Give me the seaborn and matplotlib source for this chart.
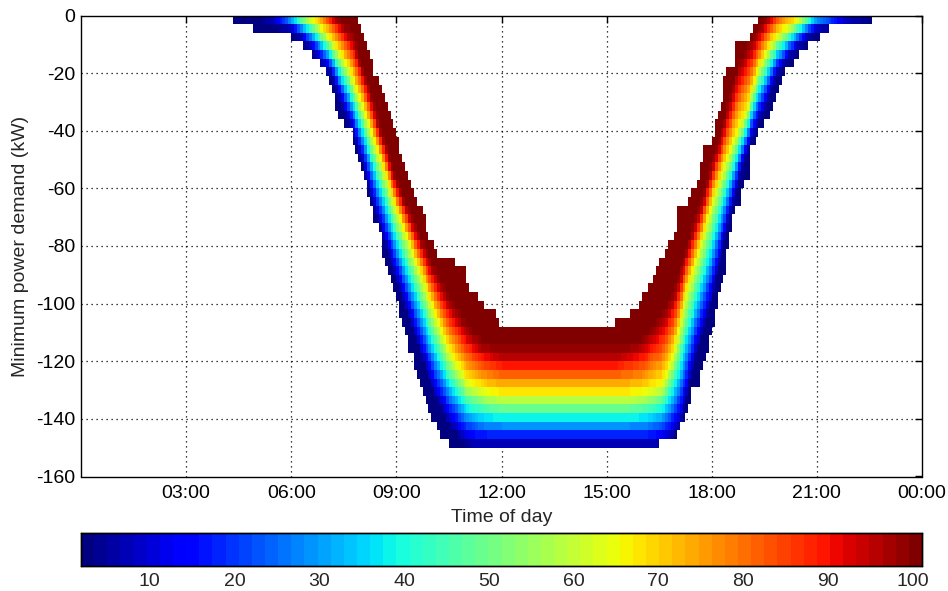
import numpy as np
import pandas as pd
import matplotlib
matplotlib.use("Agg")
import matplotlib.pyplot as plt
import seaborn as sns

# ---------------- data ----------------
# kW bins of 3 kW from 0 down to -150 (50 rows), 5-minute time slots
row_step_kw = 3.0
n_rows = 50
slot_minutes = 5

# time (hours) where each kW row starts / ends (outer = blue edge, inner = dark-red edge)
outer_left = [4.36, 4.95, 6.04, 6.37, 6.56, 6.80, 7.04, 7.11, 7.15, 7.21,
              7.28, 7.37, 7.53, 7.71, 7.75, 7.85, 7.94, 8.04, 8.08, 8.18,
              8.20, 8.23, 8.32, 8.37, 8.47, 8.56, 8.58, 8.61, 8.70, 8.72,
              8.85, 8.94, 9.00, 9.06, 9.08, 9.18, 9.23, 9.32, 9.37, 9.46,
              9.53, 9.56, 9.65, 9.75, 9.80, 9.89, 9.99, 10.13, 10.27, 10.46]
inner_left = [7.90, 7.97, 8.08, 8.13, 8.23, 8.32, 8.37, 8.47, 8.56, 8.64,
              8.75, 8.83, 8.89, 8.99, 9.06, 9.11, 9.18, 9.25, 9.32, 9.42,
              9.51, 9.61, 9.75, 9.82, 9.87, 9.94, 10.06, 10.13, 10.70, 11.03,
              11.03, 11.08, 11.30, 11.51, 11.80, 11.94] + [np.nan] * 14
inner_right = [19.31, 19.17, 19.12, 18.64, 18.64, 18.64, 18.45, 18.31, 18.31, 18.30,
               18.22, 18.17, 18.10, 18.06, 17.99, 17.77, 17.73, 17.68, 17.63, 17.58,
               17.40, 17.31, 17.03, 17.00, 16.96, 16.90, 16.78, 16.67, 16.46, 16.41,
               16.31, 16.17, 15.98, 15.89, 15.65, 15.22] + [np.nan] * 14
outer_right = [22.55, 21.31, 21.07, 20.74, 20.50, 20.36, 20.12, 19.98, 19.90, 19.80,
               19.72, 19.65, 19.50, 19.35, 19.26, 19.12, 19.12, 19.07, 19.05, 18.92,
               18.85, 18.80, 18.70, 18.62, 18.55, 18.52, 18.48, 18.45, 18.43, 18.40,
               18.35, 18.26, 18.20, 18.15, 18.10, 18.05, 18.00, 17.95, 17.88, 17.82,
               17.76, 17.70, 17.64, 17.45, 17.38, 17.31, 17.22, 17.12, 16.98, 16.50]

# colour level curves (hour, kW): level ~8 (blue), ~64 (yellow), ~97 (dark red)
lo_hours = [4.0, 5.0, 5.5, 6.0, 6.3, 6.75, 7.15, 7.5, 7.8, 8.1, 8.35, 8.8, 9.25, 9.7,
            10.1, 10.5, 10.9, 11.3, 16.3, 16.8, 17.1, 17.3, 17.55, 17.95, 18.25, 18.6,
            18.85, 19.15, 19.5, 19.85, 20.2, 20.7, 21.0, 21.8, 22.6, 23.0]
lo_kw = [8, 2, -1.5, -4.5, -7.5, -13.5, -19.5, -31.5, -40.5, -52, -64.5, -82, -99, -116,
         -130, -140, -146, -148.5, -148.5, -146, -140, -130, -116, -99, -82, -64.5,
         -52, -40.5, -31.5, -19.5, -13.5, -7.5, -4.5, -1.5, 1, 8]
mid_hours = [5.8, 6.6, 7.0, 7.33, 7.61, 8.0, 8.3, 8.61, 8.92, 9.45, 9.97, 10.5, 11.0,
             11.6, 12.0, 15.6, 16.1, 16.6, 16.93, 17.22, 17.65, 18.1, 18.45, 18.75,
             19.0, 19.12, 19.26, 19.45, 19.69, 19.88, 20.45, 21.0]
mid_kw = [5, -1.5, -6.5, -12.3, -18.1, -30, -41.3, -52.9, -64.5, -81.9, -99.3, -116.7,
          -127, -131, -132, -132, -131, -128.3, -116.7, -99.3, -81.5, -61, -50, -40,
          -33.2, -27.4, -21.6, -15.8, -10, -7.1, -1.5, 4]
hi_hours = [6.8, 7.3, 7.8, 8.05, 8.3, 8.55, 8.85, 9.2, 9.8, 10.45, 10.9, 11.4, 12.0,
            15.3, 16.0, 16.5, 16.9, 17.3, 17.75, 18.0, 18.3, 18.55, 18.75, 19.0, 19.3,
            19.6, 20.1]
hi_kw = [7, -1.5, -10, -20, -30, -41, -53, -64.5, -82, -99, -108, -115, -118,
         -118, -115, -108, -99, -82, -64.5, -53, -41, -30, -20, -13.5, -7.5, -1.5, 7]

x_tick_hours = [3, 6, 9, 12, 15, 18, 21, 24]
x_tick_labels = ["03:00", "06:00", "09:00", "12:00", "15:00", "18:00", "21:00", "00:00"]
y_tick_kw = [0, -20, -40, -60, -80, -100, -120, -140, -160]
cbar_ticks = [10, 20, 30, 40, 50, 60, 70, 80, 90, 100]

# ---------------- build the cell table ----------------
n_cols = 24 * 60 // slot_minutes
t = (np.arange(n_cols) + 0.5) * slot_minutes / 60.0
yk = -(np.arange(n_rows) * row_step_kw + row_step_kw / 2)
T = t[None, :]
Y = yk[:, None]
lo = np.interp(t, lo_hours, lo_kw)[None, :]
mid = np.interp(t, mid_hours, mid_kw)[None, :]
hi = np.interp(t, hi_hours, hi_kw)[None, :]
with np.errstate(divide="ignore", invalid="ignore"):
    v = np.where(Y <= lo, np.clip(8 - 2 * (lo - Y), 2, 8),
        np.where(Y <= mid, 8 + 56 * (Y - lo) / np.maximum(mid - lo, 1e-6),
        np.where(Y <= hi, 64 + 33 * (Y - mid) / np.maximum(hi - mid, 1e-6),
                 np.minimum(100, 97 + (Y - hi)))))
OL = np.array(outer_left)[:, None]
OR = np.array(outer_right)[:, None]
IL = np.array(inner_left)[:, None]
IR = np.array(inner_right)[:, None]
inside = (T >= OL) & (T <= OR) & ~((T > IL) & (T < IR))
v = np.where(inside, v, np.nan)
df = pd.DataFrame(v)

# ---------------- plot ----------------
sns.set_style("white")
plt.rcParams["font.family"] = ["Liberation Sans", "DejaVu Sans"]

W, H = 948, 591
fig = plt.figure(figsize=(W / 100, H / 100), dpi=100)
ax = fig.add_axes([81 / W, 1 - 476.5 / H, 841 / W, 461 / H])
cax = fig.add_axes([81 / W, 1 - 566 / H, 841 / W, 33 / H])

cmap = plt.get_cmap("jet", 64)
sns.heatmap(df, ax=ax, cmap=cmap, vmin=1.9, vmax=101.1, cbar_ax=cax,
            cbar_kws={"orientation": "horizontal", "ticks": cbar_ticks},
            xticklabels=False, yticklabels=False)

ax.set_xlim(0, n_cols)
ax.set_ylim(160 / row_step_kw, 0)
ax.set_xticks([h * 60 / slot_minutes for h in x_tick_hours])
ax.set_xticklabels(x_tick_labels, fontsize=14, rotation=0)
ax.set_yticks([-k / row_step_kw for k in y_tick_kw])
ax.set_yticklabels([str(k) for k in y_tick_kw], fontsize=14, rotation=0)
ax.tick_params(direction="in", length=5, width=1, color="k", top=True, right=True,
               pad=4, labelcolor="k")
ax.tick_params(axis="x", pad=6)
for s in ax.spines.values():
    s.set_visible(True)
    s.set_color("k")
    s.set_linewidth(1)
ax.set_axisbelow(True)
ax.grid(True, linestyle=(0, (1, 3)), color="k", linewidth=0.9)
ygl = ax.get_ygridlines()
ygl[0].set_visible(False)
ygl[-1].set_visible(False)
ax.get_xgridlines()[-1].set_visible(False)
ax.set_xlabel("Time of day", fontsize=14, labelpad=5)
ax.set_ylabel("Minimum power demand (kW)", fontsize=14, labelpad=5)

cb = ax.collections[0].colorbar
if cb is not None:
    cb.outline.set_visible(True)
    cb.outline.set_linewidth(1)
    cb.outline.set_edgecolor("k")
for s in cax.spines.values():
    s.set_visible(True)
    s.set_color("k")
    s.set_linewidth(1)
cax.tick_params(direction="in", length=5, width=1, color="k", top=True, bottom=True,
                labelsize=14, pad=5)
cax.set_xticks(cbar_ticks)
cax.set_xticklabels([str(c) for c in cbar_ticks])

fig.savefig("out.png", dpi=100)
